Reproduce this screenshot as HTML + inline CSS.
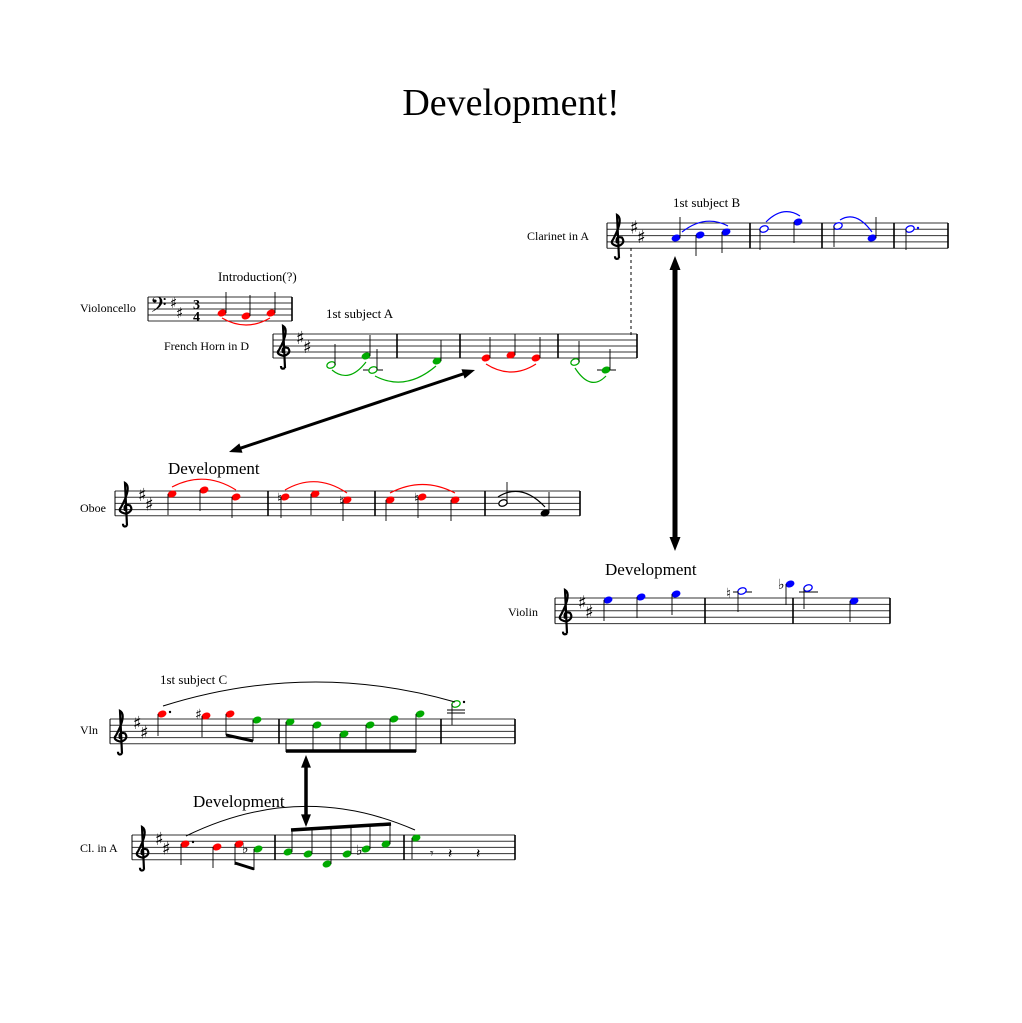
<!DOCTYPE html>
<html><head><meta charset="utf-8"><style>
html,body{margin:0;padding:0;background:#fff;}
svg{display:block;font-family:"Liberation Serif",serif;}
</style></head><body>
<svg id="s" width="1022" height="1023" viewBox="0 0 1022 1023" xmlns="http://www.w3.org/2000/svg">
<rect width="1022" height="1023" fill="#fff"/>
<text x="511" y="115" font-size="38" text-anchor="middle">Development!</text>
<g font-size="13">
<text x="673" y="207">1st subject B</text>
<text x="527" y="240" font-size="12">Clarinet in A</text>
<text x="218" y="281">Introduction(?)</text>
<text x="80" y="312" font-size="12">Violoncello</text>
<text x="326" y="318">1st subject A</text>
<text x="164" y="350" font-size="12">French Horn in D</text>
<text x="80" y="512" font-size="12">Oboe</text>
<text x="508" y="616" font-size="12">Violin</text>
<text x="160" y="684">1st subject C</text>
<text x="80" y="734" font-size="12">Vln</text>
<text x="80" y="852" font-size="12">Cl. in A</text>
</g>
<g font-size="17">
<text x="168" y="474">Development</text>
<text x="605" y="575">Development</text>
<text x="193" y="807">Development</text>
</g>
<g id="d"></g>
<line x1="631" y1="248" x2="631" y2="335" stroke="#000" stroke-dasharray="3,3"/>
</svg>
<script>
const g=document.getElementById('d');const NS='http://www.w3.org/2000/svg';
function el(t,a){const e=document.createElementNS(NS,t);for(const k in a)e.setAttribute(k,a[k]);g.appendChild(e);return e;}
function staff(x1,x2,top,sp,bars,clef){for(let i=0;i<5;i++)el('line',{x1,x2,y1:top+i*sp,y2:top+i*sp,stroke:'#333','stroke-width':1});
 el('line',{x1,x2:x1,y1:top,y2:top+4*sp,stroke:'#000','stroke-width':1});
 bars.forEach(b=>el('line',{x1:b,x2:b,y1:top,y2:top+4*sp,stroke:'#000','stroke-width':1.6}));
 el('line',{x1:x2,x2:x2,y1:top,y2:top+4*sp,stroke:'#000','stroke-width':1.6});
 if(clef==='t'){const cx=x1+11,b=top+4*sp;
  el('path',{d:`M${cx+1} ${b+10} Q${cx-3} ${b+12} ${cx-3} ${b+8} M${cx+1} ${b+10} L${cx-1} ${top-8} Q${cx+6} ${top-4} ${cx-5} ${top+2*sp+4} Q${cx-9} ${b-4} ${cx} ${b-2} Q${cx+8} ${b-5} ${cx+4} ${top+2*sp+2} Q${cx-3} ${top+2*sp} ${cx-1} ${b-5}`,fill:'none',stroke:'#000','stroke-width':2.2});
  el('text',{x:x1+23,y:top+sp+4,'font-size':18,'font-family':'DejaVu Sans'}).textContent='♯';
  el('text',{x:x1+30,y:top+2.5*sp+4,'font-size':18,'font-family':'DejaVu Sans'}).textContent='♯';}
}
function n(x,y,c,open,dir,len){len=len||21;
 el('ellipse',{cx:x,cy:y,rx:4.3,ry:3.1,transform:`rotate(-20 ${x} ${y})`,fill:open?'#fff':c,stroke:c,'stroke-width':open?1.3:0.5});
 if(dir==='u')el('line',{x1:x+4,x2:x+4,y1:y,y2:y-len,stroke:'#000','stroke-width':0.9});
 if(dir==='d')el('line',{x1:x-4,x2:x-4,y1:y,y2:y+len,stroke:'#000','stroke-width':0.9});}
function slur(x1,y1,x2,y2,cy,c,w){el('path',{d:`M${x1} ${y1} Q${(x1+x2)/2} ${cy} ${x2} ${y2}`,fill:'none',stroke:c,'stroke-width':w||1.2});}
function arrow(x1,y1,x2,y2,w,h){const dx=x2-x1,dy=y2-y1,L=Math.hypot(dx,dy),ux=dx/L,uy=dy/L,px=-uy,py=ux;
 el('line',{x1:x1+ux*h,y1:y1+uy*h,x2:x2-ux*h,y2:y2-uy*h,stroke:'#000','stroke-width':w});
 [[x1,y1,1],[x2,y2,-1]].forEach(([x,y,s])=>{const bx=x+s*ux*h*1.4,by=y+s*uy*h*1.4;
 el('polygon',{points:`${x},${y} ${bx+px*h*0.55},${by+py*h*0.55} ${bx-px*h*0.55},${by-py*h*0.55}`,fill:'#000'});});}
const R='#f00',G='#0a0',B='#00f',K='#000';
// Clarinet
staff(607,948,223,6.3,[750,822,894],'t');
n(676,238,B,0,'u');n(700,235,B,0,'d');n(726,232,B,0,'d');n(764,229,B,1,'d');n(798,222,B,0,'d');
n(838,226,B,1,'d');n(872,238,B,0,'u');n(910,229,B,1,'d');el('circle',{cx:918,cy:228,r:1.2,fill:B});
slur(682,232,728,226,214,B);slur(766,222,800,216,205,B);slur(840,220,872,232,210,B);
// Cello
staff(148,292,297,6,[],'');
el('text',{x:150,y:316,'font-size':26,'font-family':'DejaVu Sans'}).textContent='𝄢';
el('text',{x:170,y:308,'font-size':15,'font-family':'DejaVu Sans'}).textContent='♯';
el('text',{x:176,y:318,'font-size':15,'font-family':'DejaVu Sans'}).textContent='♯';
el('text',{x:193,y:309,'font-size':14,'font-weight':'bold'}).textContent='3';
el('text',{x:193,y:321,'font-size':14,'font-weight':'bold'}).textContent='4';
n(222,313,R,0,'u');n(246,316,R,0,'u');n(271,313,R,0,'u');slur(222,318,270,318,332,R);
// Horn
staff(273,637,334,6,[397,460,558],'t');
n(331,365,G,1,'u');n(366,356,G,0,'u');slur(332,370,366,362,384,G);
el('line',{x1:363,x2:383,y1:370,y2:370,stroke:'#000'});n(373,370,G,1,'u');n(437,361,G,0,'u');slur(375,376,436,366,392,G);
n(486,358,R,0,'u');n(511,355,R,0,'u');n(536,358,R,0,'u');slur(486,364,536,364,380,R);
n(575,362,G,1,'u');el('line',{x1:597,x2:616,y1:370,y2:370,stroke:'#000'});n(606,370,G,0,'u');slur(575,368,606,376,392,G);
arrow(229,452,475,370,3,9);
// Oboe
staff(115,580,491,6.2,[268,375,485],'t');
n(172,494,R,0,'d');n(204,490,R,0,'d');n(236,497,R,0,'d');slur(172,487,236,490,470,R);
n(285,497,R,0,'d');n(315,494,R,0,'d');n(347,500,R,0,'d');slur(285,490,347,493,472,R);
n(390,500,R,0,'d');n(422,497,R,0,'d');n(455,500,R,0,'d');slur(390,493,455,493,476,R);
[[277,498],[339,501],[414,498]].forEach(([x,y])=>el('text',{x:x,y:y+5,'font-size':14,'font-family':'DejaVu Sans'}).textContent='♮');
n(503,503,K,1,'u');n(545,513,K,0,'u');slur(498,497,545,507,482,K);
// Violin
staff(555,890,598,6.4,[705,793],'t');
n(608,600,B,0,'d');n(641,597,B,0,'d');n(676,594,B,0,'d');
el('line',{x1:733,x2:752,y1:592,y2:592,stroke:'#000'});n(742,591,B,1,'d');el('text',{x:726,y:598,'font-size':14,'font-family':'DejaVu Sans'}).textContent='♮';
n(790,584,B,0,'d');el('text',{x:778,y:589,'font-size':14,'font-family':'DejaVu Sans'}).textContent='♭';
el('line',{x1:799,x2:818,y1:592,y2:592,stroke:'#000'});n(808,588,B,1,'d');n(854,601,B,0,'d');
arrow(675,256,675,551,5,10);
// Vln section C
staff(110,515,719,6.2,[279,441],'t');
n(162,714,R,0,'d',22);el('circle',{cx:170,cy:712,r:1.2,fill:K});
el('text',{x:195,y:719,'font-size':14,'font-family':'DejaVu Sans'}).textContent='♯';n(206,716,R,0,'d');
n(230,714,R,0,'d');n(257,720,G,0,'d');el('line',{x1:226,x2:253,y1:735,y2:741,stroke:'#000','stroke-width':3});
[[290,722],[317,725],[344,734],[370,725],[394,719],[420,714]].forEach(([x,y])=>{n(x,y,G,0,'');el('line',{x1:x-4,x2:x-4,y1:y,y2:752,stroke:'#000','stroke-width':0.9});});
el('line',{x1:286,x2:416,y1:751,y2:751,stroke:'#000','stroke-width':3.5});
el('line',{x1:447,x2:465,y1:710,y2:710,stroke:'#000'});el('line',{x1:447,x2:465,y1:713,y2:713,stroke:'#000'});
n(456,704,G,1,'d');el('circle',{cx:464,cy:702,r:1.2,fill:K});
slur(163,706,455,702,660,K,1);
arrow(306,755,306,827,3.5,9);
// Cl in A
staff(132,515,835,6.2,[275,404],'t');
n(185,844,R,0,'d');el('circle',{cx:193,cy:842,r:1.2,fill:K});n(217,847,R,0,'d');n(239,844,R,0,'d');
el('text',{x:242,y:853,'font-size':14,'font-family':'DejaVu Sans'}).textContent='♭';n(258,849,G,0,'d');
el('line',{x1:235,x2:254,y1:863,y2:869,stroke:'#000','stroke-width':3});
[[288,852],[308,854],[327,864],[347,854],[366,849],[386,844]].forEach(([x,y])=>{n(x,y,G,0,'');el('line',{x1:x+4,x2:x+4,y1:y,y2:830-(x-288)*0.06,stroke:'#000','stroke-width':0.9});});
el('text',{x:356,y:855,'font-size':14,'font-family':'DejaVu Sans'}).textContent='♭';
el('line',{x1:291,x2:391,y1:830,y2:824,stroke:'#000','stroke-width':3.5});
n(416,838,G,0,'d');el('text',{x:430,y:858,'font-size':14,'font-family':'DejaVu Sans'}).textContent='𝄾';
el('text',{x:448,y:858,'font-size':14,'font-family':'DejaVu Sans'}).textContent='𝄽';
el('text',{x:476,y:858,'font-size':14,'font-family':'DejaVu Sans'}).textContent='𝄽';
slur(186,836,415,830,780,K,1);
</script>
</body></html>
